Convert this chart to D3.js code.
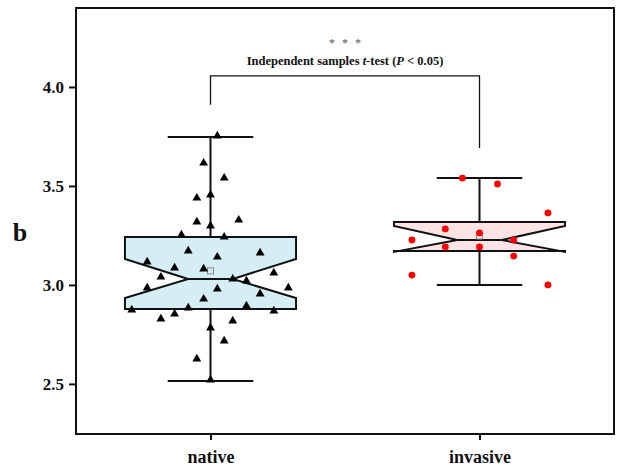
<!DOCTYPE html>
<html><head><meta charset="utf-8">
<script src="https://cdn.jsdelivr.net/npm/d3@7"></script>
<style>body{margin:0;background:#fff}svg{display:block}</style>
</head><body>
<svg id="c" width="620" height="470"></svg>
<script>
const categories = ["native", "invasive"];
const yTicks = [2.5, 3.0, 3.5, 4.0];
// box statistics: [whiskerLow, q1, notchLow, median, notchHigh, q3, whiskerHigh, mean]
const nativeStats = [2.515, 2.879, 2.934, 3.03, 3.131, 3.242, 3.747, 3.071];
const invasiveStats = [3.0, 3.172, 3.167, 3.227, 3.298, 3.318, 3.54, 3.247];
const nativeValues = [3.753,3.616,3.540,3.439,3.455,3.318,3.328,3.298,3.253,3.242,3.172,3.141,3.162,3.116,3.086,3.081,3.040,3.030,3.020,3.061,2.985,2.985,2.980,2.929,2.955,2.884,2.894,2.874,2.869,2.828,2.854,2.818,2.783,2.717,2.626,2.520];
const nativeJitter = [0.08,-0.08,0.16,-0.16,0,-0.16,0.33,0,-0.34,0.16,-0.26,0.08,0.58,-0.74,-0.42,-0.08,-0.58,0.26,0.42,0.74,-0.74,0.91,0.08,-0.08,0.58,-0.26,0.42,-0.92,0.74,-0.58,-0.42,0.26,0,0.16,-0.16,0];
const invasiveValues = [3.540,3.510,3.364,3.283,3.263,3.227,3.227,3.192,3.192,3.146,3.050,3.000];
const invasiveJitter = [-0.2,0.21,0.8,-0.4,0,-0.79,0.4,-0.4,0,0.4,-0.79,0.8];
const bracketLevels = [3.91, 4.056, 3.692]; // left end, top, right end
const annotStars = "* * *";
const annotText = ["Independent samples ", "t", "-test (", "P", " < 0.05)"];
const yLabel = "b";

const svg = d3.select("#c");
const L = 76, R = 614, T = 8, B = 434;
const x = d3.scalePoint().domain(categories).range([L, R]).padding(0.5);
const y = d3.scaleLinear().domain([2.247, 4.399]).range([B, T]);
const boxHalf = x.step() * 0.318;
const jit = d3.scaleLinear().domain([-1, 1]).range([-boxHalf, boxHalf]);
const FONT = "'Liberation Serif','Times New Roman',serif";

// frame
svg.append("rect").attr("x", L).attr("y", T).attr("width", R - L).attr("height", B - T)
  .attr("fill", "none").attr("stroke", "#111").attr("stroke-width", 2);

// y axis
const ya = svg.append("g").attr("transform", `translate(${L},0)`)
  .call(d3.axisLeft(y).tickValues(yTicks).tickFormat(d3.format(".1f")).tickSize(7).tickSizeOuter(0));
ya.select(".domain").remove();
ya.selectAll("line").attr("stroke", "#111").attr("stroke-width", 2);
ya.selectAll("text").attr("font-family", FONT).attr("font-weight", "bold").attr("font-size", 17).attr("fill", "#111").attr("dx", -2);

// x axis
const xa = svg.append("g").attr("transform", `translate(0,${B})`)
  .call(d3.axisBottom(x).tickSize(6).tickSizeOuter(0));
xa.select(".domain").remove();
xa.selectAll("line").attr("stroke", "#111").attr("stroke-width", 2);
xa.selectAll("text").attr("font-family", FONT).attr("font-weight", "bold").attr("font-size", 18).attr("fill", "#111").attr("dy", "1.1em");

// y label
svg.append("text").attr("x", 20).attr("y", y(3.25)).attr("text-anchor", "middle").attr("dominant-baseline", "middle")
  .attr("font-family", FONT).attr("font-weight", "bold").attr("font-size", 26).attr("fill", "#111").text(yLabel);

const groups = [
  {cat: "native", s: nativeStats, vals: nativeValues, jit: nativeJitter, fill: "#d5edf5", marker: "tri"},
  {cat: "invasive", s: invasiveStats, vals: invasiveValues, jit: invasiveJitter, fill: "#fde4e4", marker: "dot"}
];
const notchHalf = boxHalf * 0.26;
const capHalf = boxHalf * 0.5;

groups.forEach(g => {
  const cx = x(g.cat);
  const [wl, q1, nl, med, nh, q3, wh, mean] = g.s;
  const gg = svg.append("g");
  gg.append("line").attr("x1", cx).attr("x2", cx).attr("y1", y(q3)).attr("y2", y(wh)).attr("stroke", "#111").attr("stroke-width", 2);
  gg.append("line").attr("x1", cx).attr("x2", cx).attr("y1", y(q1)).attr("y2", y(wl)).attr("stroke", "#111").attr("stroke-width", 2);
  [wl, wh].forEach(v => gg.append("line").attr("x1", cx - capHalf).attr("x2", cx + capHalf).attr("y1", y(v)).attr("y2", y(v)).attr("stroke", "#111").attr("stroke-width", 2));
  const l = cx - boxHalf, r = cx + boxHalf;
  const pts = [[l, y(q3)], [r, y(q3)], [r, y(nh)], [cx + notchHalf, y(med)], [r, y(nl)], [r, y(q1)],
               [l, y(q1)], [l, y(nl)], [cx - notchHalf, y(med)], [l, y(nh)]];
  gg.append("path").attr("d", d3.line()(pts) + "Z").attr("fill", g.fill).attr("stroke", "#111").attr("stroke-width", 2).attr("stroke-linejoin", "miter");
  gg.append("line").attr("x1", cx - notchHalf).attr("x2", cx + notchHalf).attr("y1", y(med)).attr("y2", y(med)).attr("stroke", "#111").attr("stroke-width", 2);
  gg.append("rect").attr("x", cx - 3).attr("y", y(mean) - 3).attr("width", 6).attr("height", 6)
    .attr("fill", "none").attr("stroke", "#888").attr("stroke-width", 1);
  g.vals.forEach((v, i) => {
    const px = cx + jit(g.jit[i]), py = y(v);
    if (g.marker === "tri") {
      gg.append("path").attr("d", d3.symbol(d3.symbolTriangle, 34)()).attr("transform", `translate(${px},${py})`).attr("fill", "#000");
    } else {
      gg.append("circle").attr("cx", px).attr("cy", py).attr("r", 3.4).attr("fill", "#f00");
    }
  });
});

// significance bracket
const x1 = x(categories[0]), x2 = x(categories[1]);
svg.append("path").attr("d", d3.line()([[x1, y(bracketLevels[0])], [x1, y(bracketLevels[1])], [x2, y(bracketLevels[1])], [x2, y(bracketLevels[2])]]))
  .attr("fill", "none").attr("stroke", "#111").attr("stroke-width", 1.3);
const mx = (x1 + x2) / 2;
svg.append("text").attr("x", mx + 1).attr("y", y(bracketLevels[1]) - 29).attr("text-anchor", "middle")
  .attr("font-family", FONT).attr("font-size", 12).attr("fill", "#555").attr("letter-spacing", 2).text(annotStars);
const t = svg.append("text").attr("x", mx).attr("y", y(bracketLevels[1]) - 11).attr("text-anchor", "middle")
  .attr("font-family", FONT).attr("font-size", 12.5).attr("font-weight", "bold").attr("fill", "#111");
annotText.forEach((s, i) => t.append("tspan").attr("font-style", (i === 1 || i === 3) ? "italic" : "normal").text(s));
</script>
</body></html>
